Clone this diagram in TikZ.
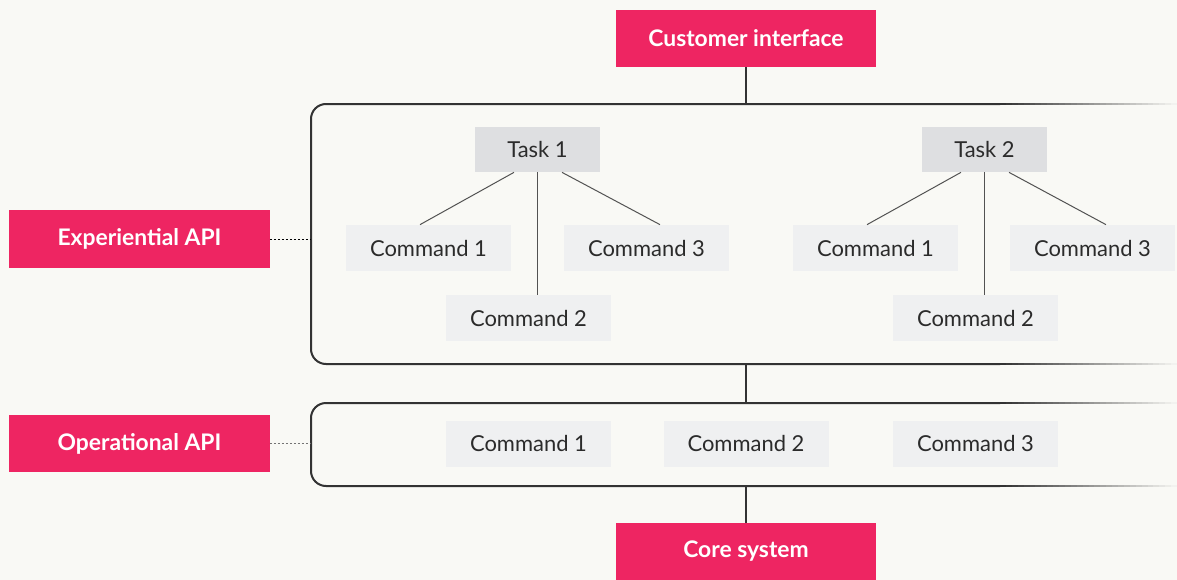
\documentclass[tikz,border=0pt]{standalone}
\usepackage{fontspec}
\setmainfont{Lato}
\definecolor{bgcol}{HTML}{F9F9F5}
\definecolor{pinkcol}{HTML}{EE2562}
\definecolor{taskcol}{HTML}{DEDFE1}
\definecolor{cmdcol}{HTML}{EFF0F1}
\definecolor{inkcol}{HTML}{2B2B2B}
\definecolor{framecol}{HTML}{333333}
\tikzset{
  pinkbox/.style={fill=pinkcol, text=white, minimum width=5.20cm, minimum height=1.14cm,
    font=\fontsize{13}{15}\selectfont\bfseries, inner sep=0pt},
  taskbox/.style={fill=taskcol, text=inkcol, minimum width=2.50cm, minimum height=0.90cm,
    font=\fontsize{12.5}{15}\selectfont, inner sep=0pt},
  cmdbox/.style={fill=cmdcol, text=inkcol, minimum width=3.30cm, minimum height=0.92cm,
    font=\fontsize{12.5}{15}\selectfont, inner sep=0pt},
  frameline/.style={draw=framecol, line width=0.04cm},
  link/.style={draw=framecol!85, line width=0.02cm},
  dotline/.style={draw=black, line width=0.02cm, dash pattern=on 0.04cm off 0.04cm},
}

\begin{document}
\begin{tikzpicture}
  \fill[bgcol] (0.00, 0.00) rectangle (23.54, -11.60);
  \useasboundingbox (0.00, 0.00) rectangle (23.54, -11.60);

  % frames
  \draw[frameline, rounded corners=0.30cm] (20.00, -2.08) -- (6.22, -2.08) -- (6.22, -7.28) -- (20.00, -7.28);
  \draw[frameline, rounded corners=0.30cm] (20.00, -8.06) -- (6.22, -8.06) -- (6.22, -9.72) -- (20.00, -9.72);
  % fade to the right
  \foreach \fadey in {-2.08, -7.28, -8.06, -9.72} {
    \foreach \fadei in {0,...,29} {
      \pgfmathsetmacro{\fadex}{20+\fadei*0.118}
      \pgfmathsetmacro{\fadep}{100-\fadei*100/30}
      \draw[line width=0.04cm, draw=framecol!\fadep!bgcol] (\fadex, \fadey) -- ++(0.119, 0);
    }
  }
  \coordinate (expTop) at (14.92, -2.08);
  \coordinate (expBottom) at (14.92, -7.28);
  \coordinate (expLeft) at (6.22, -4.78);
  \coordinate (opTop) at (14.92, -8.06);
  \coordinate (opBottom) at (14.92, -9.72);
  \coordinate (opLeft) at (6.22, -8.87);

  % pink boxes
  \node[pinkbox] (customer) at (14.92, -0.77) {Customer interface};
  \node[pinkbox] (core) at (14.92, -11.03) {Core system};
  \node[pinkbox, minimum height=1.16cm] (expapi) at (2.79, -4.78) {Experiential API};
  \node[pinkbox] (opapi) at (2.79, -8.87) {Operational API};

  % experiential tasks
  \node[taskbox] (task1) at (10.75, -2.99) {Task 1};
  \node[cmdbox] (t1cmd1) at (8.57, -4.96) {Command 1};
  \node[cmdbox] (t1cmd3) at (12.93, -4.96) {Command 3};
  \node[cmdbox] (t1cmd2) at (10.57, -6.36) {Command 2};
  \node[taskbox] (task2) at (19.69, -2.99) {Task 2};
  \node[cmdbox] (t2cmd1) at (17.51, -4.96) {Command 1};
  \node[cmdbox] (t2cmd3) at (21.85, -4.96) {Command 3};
  \node[cmdbox] (t2cmd2) at (19.51, -6.36) {Command 2};

  % operational commands
  \node[cmdbox] (opcmd1) at (10.57, -8.87) {Command 1};
  \node[cmdbox] (opcmd2) at (14.92, -8.87) {Command 2};
  \node[cmdbox] (opcmd3) at (19.51, -8.87) {Command 3};

  % links
  \draw[link] ([xshift=-0.47cm]task1.south) -- ([xshift=-0.17cm]t1cmd1.north);
  \draw[link] (task1.south) -- (task1.south |- t1cmd2.north);
  \draw[link] ([xshift=0.49cm]task1.south) -- ([xshift=0.27cm]t1cmd3.north);
  \draw[link] ([xshift=-0.47cm]task2.south) -- ([xshift=-0.17cm]t2cmd1.north);
  \draw[link] (task2.south) -- (task2.south |- t2cmd2.north);
  \draw[link] ([xshift=0.49cm]task2.south) -- ([xshift=0.27cm]t2cmd3.north);

  \draw[frameline] (customer.south) -- (expTop);
  \draw[frameline] (expBottom) -- (opTop);
  \draw[frameline] (opBottom) -- (core.north);
  \draw[dotline] (expapi.east) -- (expLeft);
  \draw[dotline, draw=black!55] (opapi.east) -- (opLeft);
\end{tikzpicture}
\end{document}
